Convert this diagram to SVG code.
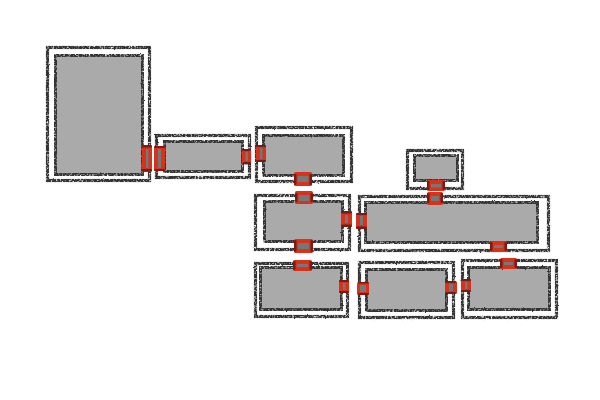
<svg xmlns="http://www.w3.org/2000/svg" width="600" height="400" viewBox="0 0 600 400">
<defs>
<filter id="rough" filterUnits="userSpaceOnUse" x="0" y="0" width="600" height="400">
<feTurbulence type="fractalNoise" baseFrequency="0.55" numOctaves="2" seed="4" result="n"/>
<feDisplacementMap in="SourceGraphic" in2="n" scale="1.8" result="d"/>
<feColorMatrix in="n" type="matrix" values="0 0 0 0 0  0 0 0 0 0  0 0 0 0 0  3 0 0 0 -0.55" result="g"/>
<feComposite in="d" in2="g" operator="in"/>
<feGaussianBlur stdDeviation="0.5"/>
</filter>
<filter id="soft" filterUnits="userSpaceOnUse" x="0" y="0" width="600" height="400">
<feGaussianBlur stdDeviation="0.4"/>
</filter>
</defs>
<style>
.f{fill:#aaaaaa}
.o{fill:none;stroke:#303030;stroke-width:3.2}
.i{fill:none;stroke:#303030;stroke-width:3}
.p{fill:#d9331b}
.g{fill:#777777}
.c{fill:#5e1410;fill-opacity:.8}
.sk{filter:url(#rough)}
.ps{filter:url(#soft)}
</style>
<rect width="600" height="400" fill="#ffffff"/>
<g id="nodes">
<g id="n1"><rect class="f" x="55.500" y="55.500" width="87" height="119"/><g class="sk"><rect class="o" x="47.500" y="47.500" width="102" height="133"/><rect class="i" x="55.500" y="55.500" width="87" height="119"/></g></g>
<g id="n2"><rect class="f" x="164.500" y="141.500" width="78" height="30"/><g class="sk"><rect class="o" x="156.500" y="135.500" width="93" height="42"/><rect class="i" x="164.500" y="141.500" width="78" height="30"/></g></g>
<g id="n3"><rect class="f" x="263.500" y="135.500" width="80" height="40"/><g class="sk"><rect class="o" x="256.500" y="127.500" width="95" height="54"/><rect class="i" x="263.500" y="135.500" width="80" height="40"/></g></g>
<g id="n4"><rect class="f" x="264.500" y="201.500" width="78" height="40"/><g class="sk"><rect class="o" x="255.500" y="195.500" width="94" height="54"/><rect class="i" x="264.500" y="201.500" width="78" height="40"/></g></g>
<g id="n5"><rect class="f" x="260.500" y="267.500" width="81" height="42"/><g class="sk"><rect class="o" x="255.500" y="263.500" width="92" height="53"/><rect class="i" x="260.500" y="267.500" width="81" height="42"/></g></g>
<g id="n6"><rect class="f" x="366.500" y="269.500" width="80" height="41"/><g class="sk"><rect class="o" x="359.500" y="262.500" width="94" height="55"/><rect class="i" x="366.500" y="269.500" width="80" height="41"/></g></g>
<g id="n7"><rect class="f" x="468.500" y="267.500" width="81" height="42"/><g class="sk"><rect class="o" x="462.500" y="260.500" width="94" height="57"/><rect class="i" x="468.500" y="267.500" width="81" height="42"/></g></g>
<g id="n8"><rect class="f" x="414.500" y="155.500" width="43" height="25"/><g class="sk"><rect class="o" x="407.500" y="150.500" width="55" height="38"/><rect class="i" x="414.500" y="155.500" width="43" height="25"/></g></g>
<g id="n9"><rect class="f" x="365.500" y="202.500" width="172" height="40"/><g class="sk"><rect class="o" x="359.500" y="196.500" width="189" height="54"/><rect class="i" x="365.500" y="202.500" width="172" height="40"/></g></g>
</g>
<g id="connectors" class="ps">
<g id="c1-2">
<rect class="p" x="142" y="145" width="10" height="27" rx="1.500"/><rect class="g" x="146" y="149" width="2.500" height="19"/><rect class="c" x="142" y="145" width="10" height="2.500" rx="1.200"/><rect class="c" x="142" y="169" width="10" height="2.500" rx="1.200"/>
<rect class="p" x="154" y="146" width="11" height="25" rx="1.500"/><rect class="g" x="158" y="149" width="3" height="19"/><rect class="c" x="154" y="146" width="11" height="2" rx="1"/><rect class="c" x="154" y="169" width="11" height="2" rx="1"/>
</g>
<g id="c2-3">
<rect class="p" x="242" y="149" width="9" height="15" rx="1.500"/><rect class="g" x="245.500" y="152" width="2.500" height="9"/><rect class="c" x="242" y="149" width="9" height="2" rx="1"/><rect class="c" x="243" y="162" width="8" height="2.500" rx="1.200"/>
<rect class="p" x="256" y="145" width="10" height="17" rx="1.500"/><rect class="g" x="260" y="148" width="2.500" height="11"/><rect class="c" x="256" y="145" width="10" height="2" rx="1"/><rect class="c" x="256" y="160" width="10" height="2" rx="1"/>
</g>
<g id="c3-4">
<rect class="p" x="294" y="172" width="18" height="14" rx="1.500"/><rect class="g" x="297.500" y="176" width="11" height="6"/><rect class="c" x="294" y="174" width="2.500" height="11" rx="1.200"/><rect class="c" x="309.500" y="174" width="2.500" height="11" rx="1.200"/>
<rect class="p" x="295" y="191" width="18" height="13" rx="1.500"/><rect class="g" x="298.500" y="195" width="11" height="6"/><rect class="c" x="295" y="193" width="2.500" height="9" rx="1.200"/><rect class="c" x="310.500" y="193" width="2.500" height="9" rx="1.200"/>
</g>
<g id="c4-9">
<rect class="p" x="341" y="211" width="11" height="16" rx="1.500"/><rect class="g" x="345" y="215" width="3" height="8"/><rect class="c" x="341" y="211" width="11" height="2.500" rx="1.200"/><rect class="c" x="341" y="224.500" width="11" height="2.500" rx="1.200"/>
<rect class="p" x="356" y="213" width="11" height="16" rx="1.500"/><rect class="g" x="360" y="216" width="3" height="9"/><rect class="c" x="356" y="213" width="11" height="2" rx="1"/><rect class="c" x="356" y="226.500" width="11" height="2.500" rx="1.200"/>
</g>
<g id="c4-5">
<rect class="p" x="294" y="239" width="19" height="14" rx="1.500"/><rect class="g" x="298" y="243" width="11" height="6"/><rect class="c" x="294" y="240" width="2.500" height="12" rx="1.200"/><rect class="c" x="310.500" y="240" width="2.500" height="12" rx="1.200"/>
<rect class="p" x="293" y="260" width="19" height="11" rx="1.500"/><rect class="g" x="297" y="264" width="11" height="3"/><rect class="c" x="293" y="261" width="2.500" height="9" rx="1.200"/><rect class="c" x="309.500" y="261" width="2.500" height="9" rx="1.200"/>
</g>
<g id="c5-6">
<rect class="p" x="339" y="280" width="10" height="13" rx="1.500"/><rect class="g" x="343" y="283" width="2.500" height="7"/><rect class="c" x="339" y="280" width="10" height="2" rx="1"/><rect class="c" x="339" y="291" width="10" height="2" rx="1"/>
<rect class="p" x="357" y="282" width="12" height="13" rx="1.500"/><rect class="g" x="360" y="285" width="6" height="7"/><rect class="c" x="358" y="282" width="11" height="1.500" rx=".8"/><rect class="c" x="358" y="293" width="11" height="2" rx="1"/>
</g>
<g id="c6-7">
<rect class="p" x="445" y="281" width="12" height="13" rx="1.500"/><rect class="g" x="449" y="284" width="4" height="7"/><rect class="c" x="445" y="281" width="11" height="2" rx="1"/><rect class="c" x="445" y="292" width="11" height="2" rx="1"/>
<rect class="p" x="461" y="279" width="10" height="13" rx="1.500"/><rect class="g" x="465" y="282" width="2.500" height="7"/><rect class="c" x="461" y="279" width="10" height="2" rx="1"/><rect class="c" x="461" y="290" width="10" height="2" rx="1"/>
</g>
<g id="c8-9">
<rect class="p" x="427" y="180" width="18" height="11" rx="1.500"/><rect class="g" x="431" y="184" width="10" height="3.500"/><rect class="c" x="427" y="181" width="2.500" height="9" rx="1.200"/><rect class="c" x="442.500" y="181" width="2.500" height="9" rx="1.200"/>
<rect class="p" x="427" y="192" width="16" height="13" rx="1.500"/><rect class="g" x="431" y="196" width="8" height="5"/><rect class="c" x="427" y="193" width="2.500" height="10" rx="1.200"/><rect class="c" x="440.500" y="193" width="2.500" height="10" rx="1.200"/>
</g>
<g id="c9-7">
<rect class="p" x="490" y="241" width="17" height="11" rx="1.500"/><rect class="g" x="494" y="245" width="9" height="3"/><rect class="c" x="490" y="242" width="2.500" height="9" rx="1.200"/><rect class="c" x="504.500" y="242" width="2.500" height="9" rx="1.200"/>
<rect class="p" x="500" y="258" width="17" height="11" rx="1.500"/><rect class="g" x="504" y="262" width="9" height="3"/><rect class="c" x="500" y="259" width="2.500" height="9" rx="1.200"/><rect class="c" x="514.500" y="259" width="2.500" height="9" rx="1.200"/>
</g>
</g>
</svg>
